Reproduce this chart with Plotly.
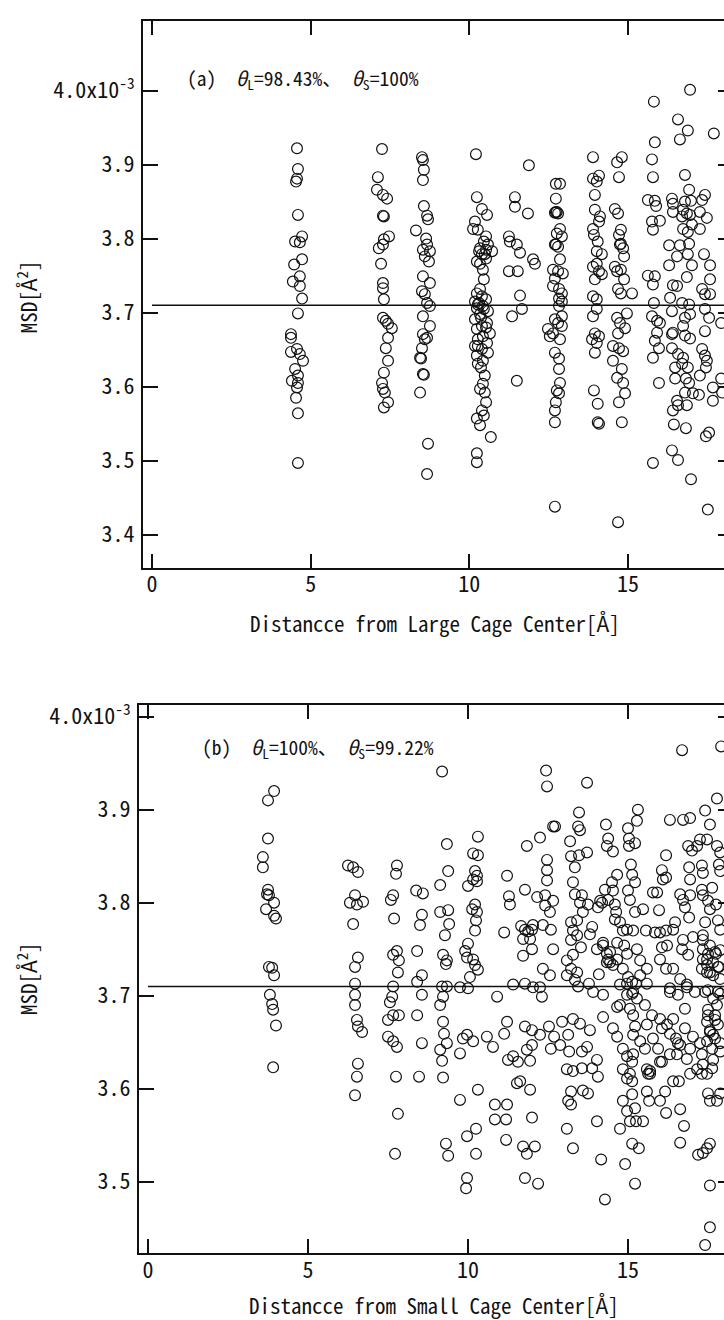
import plotly.graph_objects as go

# ---------------- data (MSD in units of 1e-3 A^2) ----------------
# Panel (a): distance from large cage centre [A], MSD
large_cage_col1 = [(4.57,3.922),(4.60,3.894),(4.57,3.881),(4.54,3.877),(4.60,3.832),(4.73,3.803),(4.51,3.796),(4.66,3.795),
    (4.73,3.772),(4.48,3.765),(4.66,3.749),(4.44,3.742),(4.66,3.736),(4.73,3.719),(4.60,3.699),(4.38,3.671),(4.38,3.666),
    (4.57,3.651),(4.38,3.647),(4.66,3.644),(4.76,3.635),(4.51,3.624),(4.60,3.615),(4.41,3.608),(4.60,3.605),(4.57,3.599),
    (4.54,3.585),(4.60,3.564),(4.60,3.497)]
large_cage_col2 = [(7.25,3.921),(7.12,3.883),(7.09,3.866),(7.28,3.859),(7.41,3.854),(7.28,3.831),(7.31,3.830),(7.47,3.803),
    (7.31,3.799),(7.28,3.792),(7.15,3.787),(7.22,3.766),(7.28,3.740),(7.28,3.733),(7.31,3.718),(7.28,3.693),(7.37,3.689),
    (7.44,3.685),(7.56,3.679),(7.44,3.666),(7.37,3.652),(7.44,3.635),(7.31,3.619),(7.25,3.605),(7.28,3.597),(7.34,3.592),
    (7.44,3.579),(7.31,3.572)]
large_cage_col3 = [(8.51,3.910),(8.54,3.906),(8.57,3.893),(8.54,3.879),(8.57,3.844),(8.67,3.831),(8.70,3.826),(8.32,3.811),
    (8.64,3.800),(8.67,3.792),(8.54,3.785),(8.76,3.783),(8.60,3.776),(8.73,3.769),(8.54,3.749),(8.76,3.740),(8.51,3.729),
    (8.60,3.725),(8.67,3.713),(8.76,3.709),(8.54,3.695),(8.76,3.682),(8.54,3.671),(8.67,3.666),(8.60,3.664),(8.51,3.652),
    (8.45,3.639),(8.48,3.638),(8.54,3.617),(8.57,3.616),(8.45,3.592),(8.70,3.523),(8.67,3.482)]
large_cage_col4 = [(10.21,3.914),(10.24,3.856),(10.40,3.840),(10.56,3.832),(10.18,3.823),(10.12,3.813),(10.27,3.812),
    (10.53,3.803),(10.46,3.796),(10.59,3.792),(10.34,3.787),(10.53,3.785),(10.72,3.783),(10.40,3.779),(10.53,3.773),
    (10.24,3.769),(10.34,3.766),(10.43,3.758),(10.46,3.745),(10.34,3.732),(10.24,3.726),(10.40,3.722),(10.53,3.718),
    (10.18,3.715),(10.31,3.713),(10.43,3.709),(10.24,3.706),(10.59,3.702),(10.34,3.698),(10.18,3.691),(10.56,3.686),
    (10.40,3.682),(10.24,3.678),(10.65,3.672),(10.43,3.668),(10.27,3.664),(10.56,3.659),(10.18,3.655),(10.40,3.651),
    (10.59,3.646),(10.24,3.642),(10.43,3.635),(10.27,3.631),(10.49,3.615),(10.43,3.604),(10.34,3.597),(10.49,3.592),
    (10.53,3.579),(10.40,3.568),(10.46,3.561),(10.24,3.557),(10.34,3.548),(10.68,3.532),(10.24,3.510),(10.24,3.498),
    (10.31,3.783),(10.49,3.779),(10.27,3.711),(10.46,3.705),(10.37,3.693),(10.27,3.655),(10.53,3.680),(10.37,3.626)]
large_cage_col5 = [(11.88,3.899),(11.44,3.856),(11.44,3.843),(11.85,3.834),(11.25,3.803),(11.28,3.796),(11.50,3.792),
    (11.60,3.781),(12.01,3.772),(12.07,3.766),(11.25,3.756),(11.53,3.756),(11.60,3.723),(11.66,3.705),(11.35,3.695),
    (11.50,3.608)]
large_cage_col6 = [(12.73,3.874),(12.86,3.874),(12.73,3.854),(12.73,3.836),(12.76,3.836),(12.70,3.835),(12.80,3.834),
    (12.86,3.813),(12.76,3.807),(12.92,3.803),(12.70,3.792),(12.73,3.792),(12.80,3.789),(12.86,3.772),(12.64,3.758),
    (12.80,3.756),(12.95,3.753),(12.70,3.746),(12.64,3.736),(12.83,3.732),(12.92,3.726),(12.83,3.719),(12.92,3.715),
    (12.83,3.709),(12.92,3.695),(12.70,3.691),(12.80,3.686),(12.92,3.682),(12.48,3.678),(12.64,3.672),(12.54,3.668),
    (12.86,3.664),(12.70,3.646),(12.83,3.638),(12.83,3.624),(12.86,3.605),(12.76,3.595),(12.83,3.591),(12.73,3.579),
    (12.70,3.568),(12.70,3.552),(12.70,3.438)]
large_cage_col7 = [(13.90,3.910),(14.09,3.885),(13.90,3.881),(14.02,3.877),(13.96,3.859),(13.96,3.839),(14.12,3.830),
    (14.09,3.823),(13.90,3.813),(13.93,3.805),(14.05,3.796),(14.02,3.783),(14.18,3.779),(14.02,3.766),(13.90,3.762),
    (14.09,3.756),(14.18,3.752),(13.96,3.745),(13.90,3.722),(14.02,3.718),(14.02,3.705),(13.90,3.695),(13.96,3.672),
    (14.09,3.668),(13.87,3.664),(14.02,3.659),(13.96,3.646),(13.93,3.595),(14.05,3.577),(14.05,3.552),(14.09,3.550)]
large_cage_col8 = [(14.81,3.910),(14.66,3.903),(14.72,3.883),(14.59,3.840),(14.69,3.834),(14.78,3.812),(14.72,3.805),
    (14.78,3.793),(14.75,3.792),(14.85,3.787),(14.88,3.776),(14.59,3.762),(14.78,3.758),(14.66,3.756),(14.88,3.745),
    (14.69,3.732),(14.78,3.726),(14.97,3.699),(14.66,3.693),(14.75,3.686),(14.91,3.679),(14.69,3.672),(14.53,3.655),
    (14.72,3.652),(14.85,3.648),(14.53,3.635),(14.81,3.624),(14.66,3.612),(14.85,3.605),(14.91,3.591),(14.72,3.579),
    (14.81,3.552),(14.69,3.417),(15.13,3.726)]
large_cage_outer = [(16.96,4.001),(15.82,3.985),(16.58,3.961),(16.89,3.946),(16.64,3.934),(17.71,3.942),(15.85,3.930),
    (15.76,3.907),(15.79,3.883),(16.80,3.886),(16.93,3.866),(15.63,3.852),(15.85,3.851),(16.39,3.854),(16.42,3.847),
    (16.80,3.850),(16.99,3.851),(17.43,3.859),(17.34,3.852),(15.89,3.844),(16.42,3.836),(16.74,3.839),(16.86,3.834),
    (16.71,3.830),(16.96,3.832),(17.27,3.836),(17.49,3.828),(15.76,3.823),(16.01,3.824),(15.79,3.812),(16.74,3.813),
    (17.02,3.819),(17.27,3.813),(16.89,3.809),(16.30,3.791),(16.64,3.791),(16.93,3.793),(16.55,3.776),(16.89,3.779),
    (17.40,3.779),(16.30,3.764),(17.02,3.764),(17.59,3.764),(15.63,3.750),(15.85,3.749),(15.79,3.738),(16.42,3.737),
    (16.55,3.736),(16.86,3.748),(17.59,3.745),(17.34,3.732),(17.43,3.725),(17.59,3.725),(16.33,3.720),(15.82,3.713),
    (16.71,3.713),(16.93,3.711),(16.39,3.702),(17.43,3.705),(15.76,3.695),(15.92,3.689),(16.01,3.686),(16.80,3.693),
    (16.96,3.698),(17.56,3.693),(17.94,3.686),(16.74,3.682),(17.43,3.675),(15.92,3.673),(16.42,3.673),(16.39,3.671),
    (16.80,3.669),(16.96,3.665),(15.85,3.662),(15.98,3.652),(16.39,3.652),(16.58,3.644),(16.74,3.639),(17.34,3.651),
    (17.43,3.642),(17.49,3.635),(15.79,3.639),(16.71,3.631),(16.49,3.626),(16.89,3.626),(17.46,3.626),(17.27,3.615),
    (16.49,3.611),(16.83,3.611),(16.93,3.605),(15.98,3.605),(17.94,3.611),(17.68,3.599),(17.97,3.592),(17.05,3.591),
    (17.24,3.589),(16.80,3.592),(16.55,3.581),(16.58,3.575),(16.42,3.568),(16.86,3.575),(17.68,3.581),(16.45,3.549),
    (16.83,3.544),(17.56,3.538),(17.46,3.533),(15.79,3.497),(16.39,3.514),(16.58,3.501),(16.99,3.475),(17.52,3.434)]

# Panel (b): distance from small cage centre [A], MSD
small_cage_inner = [(3.94,3.920),(3.75,3.910),(3.75,3.869),(3.59,3.849),(3.59,3.838),(3.75,3.814),(3.72,3.809),
    (3.78,3.808),(3.94,3.800),(3.69,3.793),(3.94,3.786),(4.00,3.783),(3.78,3.731),(3.88,3.730),(3.94,3.722),(3.81,3.701),
    (3.88,3.691),(3.91,3.685),(4.00,3.668),(3.91,3.623),
    (6.25,3.840),(6.41,3.838),(6.56,3.833),(6.47,3.808),(6.31,3.800),(6.53,3.798),(6.72,3.801),(6.41,3.777),(6.56,3.741),
    (6.47,3.731),(6.47,3.713),(6.47,3.701),(6.47,3.690),(6.53,3.674),(6.56,3.667),(6.69,3.661),(6.56,3.627),(6.53,3.613),
    (6.47,3.593)]
small_cage_mid = [(7.78,3.840),(7.75,3.831),(7.66,3.808),(7.59,3.803),(7.69,3.783),(7.66,3.744),(7.78,3.748),(7.84,3.738),
    (7.81,3.725),(7.66,3.710),(7.63,3.699),(7.56,3.693),(7.50,3.674),(7.66,3.679),(7.84,3.679),(7.50,3.656),(7.66,3.651),
    (7.78,3.645),(7.75,3.613),(7.81,3.573),(7.72,3.530),
    (8.38,3.813),(8.59,3.810),(8.56,3.787),(8.50,3.776),(8.41,3.748),(8.56,3.722),(8.41,3.715),(8.56,3.701),(8.41,3.679),
    (8.56,3.649),(8.47,3.613),
    (9.19,3.941),(9.34,3.863),(9.38,3.834),(9.13,3.819),(9.13,3.790),(9.38,3.792),(9.41,3.777),(9.28,3.765),(9.22,3.744),
    (9.34,3.738),(9.31,3.734),(9.19,3.710),(9.34,3.710),(9.22,3.699),(9.13,3.690),(9.22,3.672),(9.25,3.659),(9.34,3.649),
    (9.13,3.642),(9.19,3.630),(9.22,3.612),(9.31,3.541),(9.38,3.528),
    (10.31,3.871),(10.16,3.853),(10.31,3.851),(10.22,3.834),(10.28,3.829),(10.16,3.825),(10.28,3.823),(10.00,3.818),
    (10.22,3.798),(10.13,3.793),(10.28,3.790),(10.25,3.781),(10.22,3.770),(10.00,3.756),(9.91,3.748),(9.97,3.741),
    (10.16,3.739),(10.22,3.733),(10.31,3.728),(10.06,3.720),(9.75,3.709),(10.00,3.708),(9.84,3.654),(9.75,3.638),
    (9.97,3.658),(10.16,3.651),(9.75,3.588),(10.31,3.599),(9.97,3.549),(10.25,3.557),(10.25,3.530),(9.97,3.504),
    (9.94,3.493)]
small_cage_outer_hi = [(11.22,3.829),(11.28,3.807),(11.31,3.798),(11.13,3.768),(11.78,3.814),(11.84,3.861),(12.25,3.870),
    (11.66,3.775),(11.78,3.771),(11.88,3.769),(12.00,3.771),(12.03,3.776),(11.72,3.761),(11.94,3.761),(12.00,3.750),
    (11.72,3.743),(11.41,3.712),(11.78,3.713),(12.03,3.709),(12.25,3.709),(12.31,3.699),(10.91,3.699),(12.44,3.942),
    (12.47,3.925),(12.66,3.882),(12.72,3.882),(12.47,3.846),(12.47,3.835),(12.47,3.824),(12.16,3.806),(12.41,3.808),
    (12.66,3.802),(12.56,3.790),(12.41,3.797),(12.34,3.776),(12.59,3.771),(12.66,3.750),(12.34,3.729),(12.56,3.722),
    (13.72,3.929),(13.47,3.897),(13.50,3.878),(13.44,3.882),(13.19,3.866),(13.22,3.850),(13.47,3.851),(13.72,3.854),
    (13.34,3.838),(13.28,3.822),(13.34,3.809),(13.56,3.808),(13.50,3.800),(13.75,3.798),(13.59,3.790),(13.41,3.781),
    (13.22,3.779),(13.28,3.770),(13.41,3.765),(13.22,3.760),(13.53,3.752),(13.28,3.744),(13.09,3.738),(13.22,3.729),
    (13.41,3.725),(13.09,3.722),(13.34,3.717),(13.44,3.710),(13.78,3.713),(13.81,3.766),(14.03,3.750),(14.13,3.802),
    (14.19,3.800),(14.06,3.795),(13.88,3.774),(14.22,3.757),(14.34,3.745),(14.38,3.739),(14.44,3.736),(14.09,3.723),
    (14.22,3.701),(13.91,3.704),(14.31,3.884),(14.38,3.869),(14.53,3.855),(14.34,3.861),(14.66,3.830),(14.50,3.822),
    (14.28,3.814),(14.53,3.813),(14.38,3.803),(14.59,3.798),(14.63,3.790),(14.59,3.782),(14.75,3.779),(14.84,3.770),
    (14.66,3.757),(14.88,3.754),(14.66,3.739),(14.97,3.745),(14.84,3.729),(15.00,3.720),(14.97,3.713),(15.13,3.702),
    (14.75,3.712),(15.00,3.880),(15.31,3.900),(15.28,3.888),(15.03,3.869),(15.03,3.861),(15.22,3.864),(15.09,3.841),
    (15.13,3.830),(15.22,3.822),(15.00,3.813),(15.06,3.803),(15.22,3.790),(14.97,3.771),(15.16,3.770),(15.28,3.750),
    (15.47,3.793),(15.56,3.770),(15.38,3.738),(15.59,3.729),(15.38,3.722),(15.25,3.713),(15.59,3.713),(15.78,3.811),
    (15.91,3.811),(15.97,3.792),(15.84,3.768),(16.00,3.768),(16.19,3.770),(16.06,3.752),(16.22,3.754),(16.00,3.739),
    (16.19,3.729),(16.31,3.708),(16.56,3.701),(16.19,3.851),(16.06,3.835),(16.19,3.827),(16.09,3.825),(16.31,3.889),
    (16.72,3.889),(16.94,3.891),(16.69,3.964),(17.41,3.899),(17.56,3.884),(17.78,3.912),(17.91,3.968),(16.88,3.861),
    (17.00,3.856),(17.16,3.861),(17.25,3.868),(17.47,3.868),(17.78,3.861),(17.88,3.854),(17.84,3.841),(16.91,3.838),
    (17.31,3.840),(17.34,3.832),(17.88,3.834),(16.94,3.825),(17.31,3.814),(17.63,3.816),(16.63,3.809),(16.72,3.803),
    (16.94,3.808),(16.78,3.795),(16.91,3.784),(17.34,3.808),(17.50,3.802),(17.56,3.793),(17.75,3.798),(17.81,3.781),
    (17.41,3.779),(17.34,3.765),(17.88,3.771),(16.47,3.779),(16.41,3.771),(16.72,3.760),(17.03,3.763),(16.69,3.750),
    (16.88,3.744),(17.34,3.750),(17.50,3.745),(17.75,3.745),(17.88,3.749),(17.34,3.739),(17.47,3.733),(17.66,3.736),
    (17.84,3.731),(17.47,3.725),(17.66,3.722),(16.84,3.709),(17.09,3.704),(17.50,3.706),(17.81,3.704),(17.88,3.702)]
small_cage_outer_lo = [(10.59,3.656),(10.78,3.645),(11.13,3.659),(11.25,3.631),(11.41,3.635),(11.22,3.672),(10.84,3.583),
    (11.22,3.583),(10.84,3.567),(11.19,3.567),(11.19,3.545),(11.53,3.606),(11.63,3.608),(11.94,3.599),(12.00,3.569),
    (11.72,3.538),(11.84,3.530),(12.09,3.538),(11.78,3.504),(12.19,3.498),(11.78,3.667),(12.00,3.663),(12.25,3.658),
    (12.00,3.647),(11.84,3.642),(11.94,3.630),(11.56,3.629),(12.53,3.667),(12.59,3.643),(12.69,3.656),(12.88,3.647),
    (13.13,3.658),(13.16,3.640),(13.09,3.621),(13.28,3.619),(13.13,3.587),(13.22,3.597),(13.22,3.583),(13.09,3.557),
    (13.28,3.536),(12.94,3.672),(13.28,3.675),(13.50,3.670),(13.81,3.663),(13.72,3.645),(13.56,3.640),(13.56,3.622),
    (13.88,3.622),(14.03,3.631),(14.06,3.613),(13.59,3.598),(13.75,3.595),(14.03,3.565),(14.16,3.524),(14.28,3.481),
    (14.22,3.677),(14.66,3.688),(14.53,3.665),(14.66,3.656),(14.84,3.643),(14.97,3.635),(14.84,3.621),(14.97,3.611),
    (14.84,3.587),(14.97,3.576),(15.06,3.565),(14.75,3.557),(15.25,3.565),(15.47,3.565),(15.13,3.541),(15.34,3.536),
    (14.91,3.519),(15.22,3.498),(15.16,3.679),(15.22,3.667),(15.16,3.658),(15.38,3.651),(15.53,3.643),(15.16,3.637),
    (15.13,3.629),(15.06,3.616),(15.13,3.608),(15.13,3.594),(15.22,3.579),(15.53,3.690),(15.75,3.679),(15.59,3.669),
    (15.78,3.654),(15.59,3.621),(15.69,3.616),(15.59,3.597),(15.66,3.587),(16.00,3.587),(16.16,3.597),(16.19,3.574),
    (16.41,3.608),(16.59,3.608),(16.63,3.578),(16.75,3.560),(16.63,3.542),(16.00,3.675),(16.06,3.665),(16.31,3.659),
    (16.50,3.654),(16.63,3.647),(15.94,3.643),(16.06,3.629),(16.31,3.637),(16.53,3.637),(16.84,3.632),(16.94,3.616),
    (17.16,3.621),(17.31,3.616),(17.34,3.626),(17.03,3.656),(17.25,3.649),(17.47,3.651),(17.56,3.663),(17.66,3.658),
    (17.50,3.679),(17.72,3.674),(17.88,3.640),(17.66,3.631),(17.63,3.622),(17.47,3.616),(17.50,3.595),(17.56,3.587),
    (17.78,3.587),(17.88,3.595),(17.56,3.541),(17.47,3.536),(17.34,3.531),(17.19,3.529),(17.56,3.496),(17.56,3.451),
    (17.41,3.432),
    (17.34,3.760),(17.56,3.754),(17.72,3.747),(17.47,3.739),(17.81,3.731),(17.31,3.729),(17.56,3.725),(17.88,3.718),
    (17.41,3.704),(17.66,3.697),(17.78,3.690),(17.50,3.685),(17.72,3.679),(17.47,3.672),(17.81,3.669),(17.56,3.661),
    (17.72,3.654),(17.88,3.649),(17.63,3.643),(17.31,3.637),(14.22,3.754),(14.44,3.747),(14.34,3.736),(14.53,3.733),
    (15.13,3.715),(15.16,3.704),(15.28,3.697),(14.97,3.701),(14.75,3.690),(15.06,3.686),(16.41,3.729),(16.63,3.718),
    (16.31,3.704),(16.84,3.712),(16.78,3.686),(16.41,3.675),(16.22,3.669),(16.78,3.665),(16.56,3.649),(16.94,3.643),
    (16.00,3.629),(15.69,3.619),(15.63,3.616)]

mean_msd = 3.71                      # horizontal reference line (both panels)
x_ticks = [0, 5, 10, 15]
y_ticks_a = [3.4, 3.5, 3.6, 3.7, 3.8, 3.9, 4.0]
y_ticks_b = [3.5, 3.6, 3.7, 3.8, 3.9, 4.0]
top_label = "4.0x10<sup>-3</sup>"
title_a = "(a)  <i>θ</i><sub>L</sub>=98.43%、 <i>θ</i><sub>S</sub>=100%"
title_b = "(b)  <i>θ</i><sub>L</sub>=100%、 <i>θ</i><sub>S</sub>=99.22%"
xlabel_a = "Distancce from Large Cage Center[Å]"
xlabel_b = "Distancce from Small Cage Center[Å]"
ylabel = "MSD[Å<sup>2</sup>]"

# ---------------- figure ----------------
W, H = 724, 1320
FONT = "Noto Sans Mono CJK JP, Noto Sans CJK JP, DejaVu Sans Mono, monospace"
INK = "#111111"

def px_x(p):
    return p / W

def px_y(p):
    return (H - p) / H

panel_a = large_cage_col1 + large_cage_col2 + large_cage_col3 + large_cage_col4 + large_cage_col5 + \
    large_cage_col6 + large_cage_col7 + large_cage_col8 + large_cage_outer
panel_b = small_cage_inner + small_cage_mid + small_cage_outer_hi + small_cage_outer_lo

marker = dict(symbol="circle-open", size=10.8, color=INK, line=dict(width=1.2, color=INK))

fig = go.Figure()
fig.add_trace(go.Scatter(x=[0, 20], y=[mean_msd, mean_msd], mode="lines",
                         line=dict(color=INK, width=1.6), xaxis="x", yaxis="y", showlegend=False))
fig.add_trace(go.Scatter(x=[p[0] for p in panel_a], y=[p[1] for p in panel_a], mode="markers",
                         marker=marker, xaxis="x", yaxis="y", showlegend=False))
fig.add_trace(go.Scatter(x=[0, 20], y=[mean_msd, mean_msd], mode="lines",
                         line=dict(color=INK, width=1.6), xaxis="x2", yaxis="y2", showlegend=False))
fig.add_trace(go.Scatter(x=[p[0] for p in panel_b], y=[p[1] for p in panel_b], mode="markers",
                         marker=marker, xaxis="x2", yaxis="y2", showlegend=False))
# invisible traces to carry right-hand tick axes
fig.add_trace(go.Scatter(x=[None], y=[None], xaxis="x", yaxis="y3", showlegend=False))
fig.add_trace(go.Scatter(x=[None], y=[None], xaxis="x2", yaxis="y4", showlegend=False))

tick_font = dict(family=FONT, size=22, color=INK)
axis_common = dict(showgrid=False, zeroline=False, showline=True, linecolor=INK, linewidth=2,
                   ticks="inside", tickwidth=2, tickcolor=INK, tickfont=tick_font)

ya_range = [3.3557, 4.094]
xa_range = [-0.284, 18.03]
yb_range = [3.423, 4.0128]
xb_range = [-0.281, 18.0]

fig.update_layout(
    width=W, height=H, autosize=False,
    margin=dict(l=0, r=0, t=0, b=0),
    paper_bgcolor="white", plot_bgcolor="white",
    font=dict(family=FONT, size=20, color=INK),
    xaxis=dict(domain=[px_x(143), 1.0], range=xa_range, anchor="y", tickvals=x_ticks,
               ticklen=14, mirror="ticks", ticklabelstandoff=-4, **axis_common),
    yaxis=dict(domain=[px_y(563), px_y(13)], range=ya_range, anchor="x", tickvals=y_ticks_a,
               ticktext=["3.4", "3.5", "3.6", "3.7", "3.8", "3.9", top_label],
               ticklen=15, ticklabelstandoff=2, **axis_common),
    yaxis3=dict(overlaying="y", side="right", anchor="x", range=ya_range, tickvals=y_ticks_a,
                showticklabels=False, showgrid=False, zeroline=False, showline=False,
                ticks="inside", ticklen=6, tickwidth=2, tickcolor=INK),
    xaxis2=dict(domain=[px_x(139), 1.0], range=xb_range, anchor="y2", tickvals=x_ticks,
                ticklen=14, mirror="ticks", ticklabelstandoff=-4, **axis_common),
    yaxis2=dict(domain=[px_y(1253), px_y(701)], range=yb_range, anchor="x2", tickvals=y_ticks_b,
                ticktext=["3.5", "3.6", "3.7", "3.8", "3.9", top_label],
                ticklen=15, ticklabelstandoff=2, **axis_common),
    yaxis4=dict(overlaying="y2", side="right", anchor="x2", range=yb_range, tickvals=y_ticks_b,
                showticklabels=False, showgrid=False, zeroline=False, showline=False,
                ticks="inside", ticklen=6, tickwidth=2, tickcolor=INK),
)

ann_font = dict(family=FONT, size=21, color=INK)
annotations = [
    dict(text=title_a, x=px_x(185), y=px_y(71), xanchor="left", yanchor="middle", font=dict(family=FONT, size=19.5, color=INK)),
    dict(text=title_b, x=px_x(200), y=px_y(744), xanchor="left", yanchor="middle", font=dict(family=FONT, size=19.5, color=INK)),
    dict(text=xlabel_a, x=px_x(435), y=px_y(619), xanchor="center", yanchor="middle", font=ann_font),
    dict(text=xlabel_b, x=px_x(434), y=px_y(1305), xanchor="center", yanchor="middle", font=ann_font),
    dict(text=ylabel, x=px_x(27), y=px_y(291), xanchor="center", yanchor="middle", textangle=-90, font=ann_font),
    dict(text=ylabel, x=px_x(27), y=px_y(977), xanchor="center", yanchor="middle", textangle=-90, font=ann_font),
]
for a in annotations:
    a.update(xref="paper", yref="paper", showarrow=False)
fig.update_layout(annotations=annotations)

page_fix = ("document.body.style.margin='0';document.body.style.padding='0';"
            "document.body.style.overflow='hidden';document.documentElement.style.overflow='hidden';")
fig.write_html("out.html", post_script=page_fix, config={"displayModeBar": False})
